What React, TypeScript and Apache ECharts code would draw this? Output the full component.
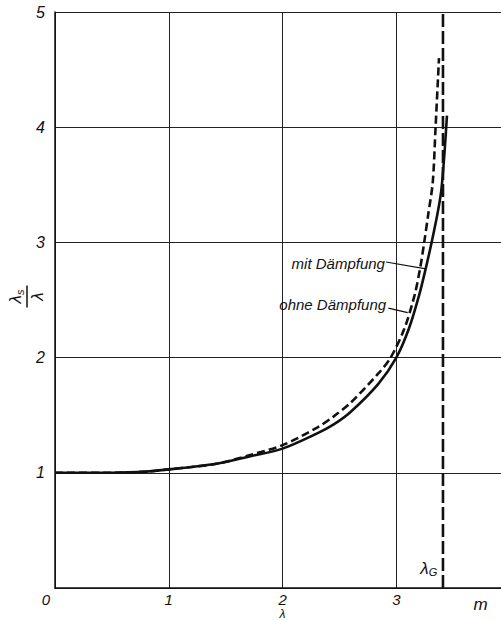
import React, { useEffect, useRef } from 'react';
import * as echarts from 'echarts';

// λ (m) vs λs/λ
const mitDaempfung: [number, number][] = [
  [0, 1.0], [0.5, 1.0], [0.8, 1.01], [1.0, 1.03], [1.2, 1.05], [1.43, 1.08], [1.7, 1.14],
  [2.0, 1.21], [2.3, 1.34], [2.45, 1.42], [2.6, 1.53], [2.84, 1.77], [3.0, 2.0], [3.11, 2.25],
  [3.2, 2.54], [3.26, 2.78], [3.31, 3.0], [3.36, 3.24], [3.395, 3.45], [3.425, 3.8], [3.445, 4.1],
];
const ohneDaempfung: [number, number][] = [
  [0, 1.0], [0.5, 1.0], [0.8, 1.01], [1.0, 1.03], [1.2, 1.05], [1.43, 1.08], [1.7, 1.15],
  [2.0, 1.24], [2.3, 1.39], [2.45, 1.49], [2.6, 1.61], [2.84, 1.86], [2.95, 2.0], [3.07, 2.25],
  [3.16, 2.54], [3.21, 2.78], [3.245, 3.0], [3.28, 3.24], [3.32, 3.52], [3.345, 4.0], [3.375, 4.6],
];
const lambdaG = 3.41;
const asymptote: [number, number][] = [[lambdaG, 0], [lambdaG, 5]];
const xRange = [0, 3.92];
const yRange = [0, 5];
const labelMit = 'mit Dämpfung';
const labelOhne = 'ohne Dämpfung';
const xUnit = 'm';

export default function App() {
  const ref = useRef<HTMLDivElement>(null);
  useEffect(() => {
    const chart = echarts.init(ref.current!, null, { renderer: 'svg' });
    const font = 'Liberation Sans';
    const ink = '#111';
    const lblBase = { fontStyle: 'italic', fontFamily: font, fontSize: 16, color: ink };
    chart.setOption({
      animation: false,
      backgroundColor: '#fff',
      grid: { left: 55, right: 0, top: 12, bottom: 32 },
      xAxis: {
        type: 'value', min: xRange[0], max: xRange[1], interval: 1,
        axisLine: { show: true, lineStyle: { color: ink, width: 1.5 } },
        axisTick: { show: false },
        splitLine: { show: true, lineStyle: { color: '#222', width: 1 } },
        axisLabel: {
          ...lblBase, fontSize: 15, margin: 4, lineHeight: 14, showMaxLabel: false,
          formatter: (v: number) => (Number.isInteger(v) ? (v === 0 ? '{z|0}' : String(v)) : ''),
          rich: { z: { ...lblBase, fontSize: 15, lineHeight: 14, padding: [0, 18, 0, 0] } },
        },
      },
      yAxis: {
        type: 'value', min: yRange[0], max: yRange[1], interval: 1,
        axisLine: { show: true, lineStyle: { color: ink, width: 1.5 } },
        axisTick: { show: false },
        splitLine: { show: true, lineStyle: { color: '#222', width: 1 } },
        axisLabel: {
          ...lblBase, margin: 10,
          formatter: (v: number) => (v === 0 ? '' : String(v)),
        },
      },
      series: [
        {
          type: 'line', data: mitDaempfung, symbol: 'none', smooth: 0.3,
          lineStyle: { color: ink, width: 2.6 }, z: 5,
        },
        {
          type: 'line', data: ohneDaempfung, symbol: 'none', smooth: 0.3,
          lineStyle: { color: ink, width: 2.6, type: [8, 4] }, z: 5,
        },
        {
          type: 'line', data: asymptote, symbol: 'none',
          lineStyle: { color: ink, width: 2.6, type: [13, 4] }, z: 5,
        },
      ],
    });

    const p = (x: number, y: number) => chart.convertToPixel({ gridIndex: 0 }, [x, y]) as number[];
    const a = p(2.91, 2.83), b = p(3.26, 2.77);
    const c = p(2.93, 2.43), d = p(3.1, 2.39);
    const tMit = p(2.9, 2.82);
    const tOhne = p(2.91, 2.46);
    const tG = p(3.36, 0.17);
    const origin = p(0, 0);
    const xLab = p(2, 0);
    const mLab = p(3.74, 0);
    const fracY = p(0, 2.53)[1];
    const textStyle = { fontStyle: 'italic', fontFamily: font, fontSize: 15, fill: ink };

    chart.setOption({
      graphic: [
        { type: 'line', shape: { x1: a[0], y1: a[1], x2: b[0], y2: b[1] }, style: { stroke: ink, lineWidth: 1.2 }, z: 10 },
        { type: 'line', shape: { x1: c[0], y1: c[1], x2: d[0], y2: d[1] }, style: { stroke: ink, lineWidth: 1.2 }, z: 10 },
        { type: 'text', x: tMit[0], y: tMit[1], style: { ...textStyle, text: labelMit, align: 'right', verticalAlign: 'middle' }, z: 10 },
        { type: 'text', x: tOhne[0], y: tOhne[1], style: { ...textStyle, text: labelOhne, align: 'right', verticalAlign: 'middle' }, z: 10 },
        {
          type: 'text', x: tG[0], y: tG[1], z: 10,
          style: {
            text: '{a|λ}{b|G}', align: 'right', verticalAlign: 'middle',
            rich: {
              a: { fontStyle: 'italic', fontFamily: font, fontSize: 17, fill: ink },
              b: { fontStyle: 'italic', fontFamily: font, fontSize: 11, fill: ink, padding: [8, 0, 0, 0] },
            },
          },
        },
        { type: 'text', x: xLab[0], y: origin[1] + 26, style: { fontStyle: 'italic', fontFamily: font, fontSize: 12, lineHeight: 12, fill: ink, text: 'λ', align: 'center', verticalAlign: 'middle' }, z: 10 },
        { type: 'text', x: mLab[0], y: origin[1] + 16, style: { fontStyle: 'italic', fontFamily: font, fontSize: 17, fill: ink, text: xUnit, align: 'center', verticalAlign: 'middle' }, z: 10 },
        {
          type: 'group', x: origin[0] - 28, y: fracY, rotation: Math.PI / 2, z: 10,
          children: [
            {
              type: 'text', x: 0, y: -2,
              style: {
                text: '{a|λ}{b|s}', align: 'center', verticalAlign: 'bottom',
                rich: {
                  a: { fontStyle: 'italic', fontFamily: font, fontSize: 17, fill: ink },
                  b: { fontStyle: 'italic', fontFamily: font, fontSize: 11, fill: ink, padding: [8, 0, 0, 0] },
                },
              },
            },
            { type: 'line', shape: { x1: -11, y1: 0, x2: 11, y2: 0 }, style: { stroke: ink, lineWidth: 1.5 } },
            { type: 'text', x: 0, y: 2, style: { fontStyle: 'italic', fontFamily: font, fontSize: 17, fill: ink, text: 'λ', align: 'center', verticalAlign: 'top' } },
          ],
        },
      ],
    });

    return () => chart.dispose();
  }, []);

  return <div ref={ref} style={{ position: 'fixed', left: 0, top: 0, width: 501, height: 620, background: '#fff' }} />;
}
